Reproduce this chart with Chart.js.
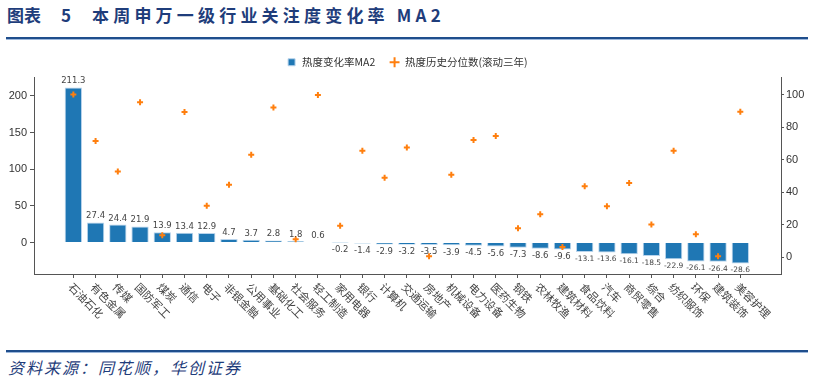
<!DOCTYPE html>
<html>
<head>
<meta charset="utf-8">
<script src="https://cdn.jsdelivr.net/npm/chart.js@4.4.1/dist/chart.umd.min.js"></script>
<style>
  body { margin: 0; width: 814px; height: 383px; background: #fff; position: relative; overflow: hidden; font-family: "Noto Sans CJK SC", sans-serif; }
  .t { position: absolute; top: 4px; font-size: 17px; font-weight: bold; color: #1f3d7b; line-height: 22px; white-space: nowrap; }
  .rule { position: absolute; left: 6px; width: 802px; height: 2px; background: #1f4e8c; border-bottom: 1px solid #9db8dc; }
  #src { position: absolute; left: 8px; top: 355px; font-size: 16px; font-style: italic; color: #1f3d7b; letter-spacing: 2px; white-space: nowrap; }
  #wrap { position: absolute; left: 0; top: 40px; width: 814px; height: 305px; }
</style>
</head>
<body>
<div class="t" style="left:7px">图表</div>
<div class="t" style="left:61px">5</div>
<div class="t" style="left:92px;letter-spacing:4.2px">本周申万一级行业关注度变化率 MA2</div>
<div class="rule" style="top:37px"></div>
<div id="wrap"><canvas id="heat" width="814" height="305"></canvas></div>
<div class="rule" style="top:350px"></div>
<div id="src">资料来源：同花顺，华创证券</div>

<script>
const industries = ['石油石化', '有色金属', '传媒', '国防军工', '煤炭', '通信', '电子', '非银金融', '公用事业', '基础化工',
  '社会服务', '轻工制造', '家用电器', '银行', '计算机', '交通运输', '房地产', '机械设备', '电力设备', '医药生物',
  '钢铁', '农林牧渔', '建筑材料', '食品饮料', '汽车', '商贸零售', '综合', '纺织服饰', '环保', '建筑装饰', '美容护理']
const heatChange = [211.3, 27.4, 24.4, 21.9, 13.9, 13.4, 12.9, 4.7, 3.7, 2.8,
  1.8, 0.6, -0.2, -1.4, -2.9, -3.2, -3.5, -3.9, -4.5, -5.6,
  -7.3, -8.6, -9.6, -13.1, -13.6, -16.1, -18.5, -22.9, -26.1, -26.4, -28.6]
const heatPercentile = [100, 71.5, 52.7, 95.3, 13.5, 89.3, 31.6, 44.5, 63, 92,
  11.1, 99.8, 19.4, 65.5, 48.9, 67.5, 0.6, 50.7, 72.1, 74.5,
  17.9, 26.5, 6.3, 43.7, 31.4, 45.6, 20.1, 65.5, 14.2, 0.6, 89.5]
const leftTicks = [0, 50, 100, 150, 200]
const rightTicks = [0, 20, 40, 60, 80, 100]

const valueLabels = {
    id: 'valueLabels',
    afterDatasetsDraw(chart) {
        const ctx = chart.ctx
        const bars = chart.getDatasetMeta(0).data
        ctx.save()
        ctx.fillStyle = '#444'
        ctx.textAlign = 'center'
        bars.forEach((bar, i) => {
            const v = heatChange[i]
            if (v >= 0) {
                ctx.font = '8.5px "DejaVu Sans"'
                ctx.textBaseline = 'bottom'
                ctx.fillText(v.toFixed(1), bar.x, bar.y - 2)
            } else {
                // the long negative labels are set smaller so they don't collide
                ctx.font = v <= -10 ? '7.5px "DejaVu Sans"' : '8.5px "DejaVu Sans"'
                ctx.textBaseline = 'top'
                ctx.fillText(v.toFixed(1), bar.x, bar.y + 3)
            }
        })

        // rotated category names, going down to the right
        const xs = chart.scales.x
        ctx.font = '11px "Noto Sans CJK SC"'
        ctx.fillStyle = '#444'
        ctx.textAlign = 'left'
        ctx.textBaseline = 'middle'
        industries.forEach((name, i) => {
            ctx.save()
            ctx.translate(xs.getPixelForValue(i) - 3, xs.top + 11)
            ctx.rotate(Math.PI / 4)
            ctx.fillText(name, 0, 0)
            ctx.restore()
        })
        ctx.restore()
    }
}

new Chart(document.getElementById('heat'), {
    type: 'bar',
    data: {
        datasets: [
            {
                label: '热度变化率MA2',
                data: heatChange.map((v, i) => ({ x: i, y: v })),
                backgroundColor: '#1f77b4',
                borderColor: '#b9d4ec',
                borderWidth: 1,
                barPercentage: 0.78,
                categoryPercentage: 1,
                pointStyle: 'rect',
                yAxisID: 'y',
                order: 2
            },
            {
                type: 'scatter',
                label: '热度历史分位数(滚动三年)',
                data: heatPercentile.map((v, i) => ({ x: i, y: v })),
                pointStyle: 'cross',
                pointRadius: 3,
                pointBorderWidth: 2,
                borderColor: '#ff7f0e',
                backgroundColor: '#ff7f0e',
                yAxisID: 'y1',
                order: 1
            }
        ]
    },
    options: {
        responsive: false,
        animation: false,
        layout: { padding: { top: 3, left: 0, right: 0, bottom: 0 } },
        plugins: {
            tooltip: { enabled: false },
            legend: {
                display: true,
                position: 'top',
                labels: {
                    usePointStyle: true,
                    boxHeight: 7,
                    padding: 14,
                    color: '#333',
                    font: { size: 10.5, family: '"Noto Sans CJK SC"' },
                    sort: (a, b) => a.datasetIndex - b.datasetIndex
                }
            }
        },
        scales: {
            x: {
                type: 'linear',
                min: -1.77,
                max: 31.83,
                offset: false,
                grid: { drawOnChartArea: false, drawTicks: true, tickLength: 4, color: '#555', offset: false },
                border: { display: true, color: '#555' },
                ticks: { autoSkip: false, maxRotation: 0, callback: () => '' },
                afterBuildTicks: s => { s.ticks = industries.map((_, i) => ({ value: i })) },
                afterFit: s => { s.height = 71 }
            },
            y: {
                position: 'left',
                min: -43,
                max: 225,
                grid: { drawOnChartArea: false, tickLength: 4, color: '#555' },
                border: { display: true, color: '#555' },
                ticks: { color: '#333', padding: 3, font: { size: 11, family: '"Liberation Sans"' } },
                afterBuildTicks: s => { s.ticks = leftTicks.map(v => ({ value: v })) },
                afterFit: s => { s.width = 34 }
            },
            y1: {
                position: 'right',
                min: -10.3,
                max: 110.5,
                grid: { drawOnChartArea: false, tickLength: 3, color: '#555' },
                border: { display: true, color: '#555' },
                ticks: { color: '#333', padding: 2, font: { size: 11, family: '"Liberation Sans"' } },
                afterBuildTicks: s => { s.ticks = rightTicks.map(v => ({ value: v })) },
                afterFit: s => { s.width = 33 }
            }
        }
    },
    plugins: [valueLabels]
})
</script>
</body>
</html>
